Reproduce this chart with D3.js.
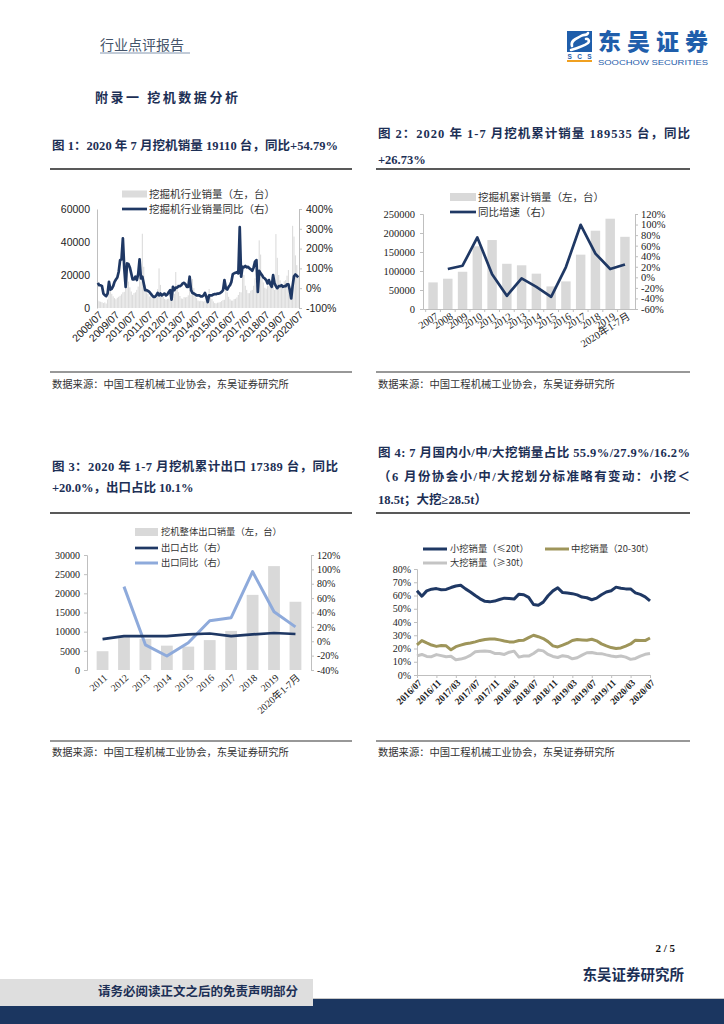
<!DOCTYPE html>
<html><head><meta charset="utf-8">
<script src="https://cdn.jsdelivr.net/npm/d3@7"></script>
<style>body{margin:0;background:#fff}svg{display:block}</style>
</head><body>
<svg id="page" width="724" height="1024"></svg>
<script>
// ---------------- DATA ----------------
// Chart 1: monthly excavator sales 2008/07 - 2020/07 and YoY %
const c1TickLabels = ["2008/07","2009/07","2010/07","2011/07","2012/07","2013/07","2014/07","2015/07","2016/07","2017/07","2018/07","2019/07","2020/07"];
const c1Sales = [
  4500,4000,3800,3500,3000,3400,
  2700,5200,11000,10500,8600,7100,6000,5300,6200,6800,7400,8300,
  9500,9800,24000,23000,16000,12500,10000,8000,9000,9500,11000,13000,
  22000,16000,45000,25000,14000,10500,8500,7000,7200,6500,6800,7000,
  6300,11500,24000,14000,9000,6800,5500,5000,5500,5700,6200,6500,
  7000,8500,21800,14300,9600,7300,5800,5600,6600,6400,6700,7700,
  10800,7900,17600,12000,8000,6000,4500,4100,4400,4200,3900,4300,
  5300,3500,11500,8200,5500,4000,3000,2800,3200,3300,3600,4200,
  4800,5000,15000,9500,6800,5300,4500,4500,5400,5600,6400,7900,
  9700,9500,26000,20000,13500,11000,9000,9000,10500,11000,13500,18000,
  14000,10000,41000,32400,19900,15500,12300,11700,13700,13400,16300,19000,
  19100,10900,44800,30400,20000,16800,13900,14200,16200,16900,19600,23000,
  8000,5500,49800,43300,31900,26000,19100
];
const c1Yoy = [
  27,15,15,10,-27,-35,
  -40,-27,32,-7,-3,10,32,44,54,83,142,146,
  252,100,7,125,122,105,75,44,44,58,41,71,
  146,49,58,24,-10,-10,-14,-19,-27,-36,-44,-44,
  -36,-24,-36,-27,-36,-31,-27,-36,-31,-19,-10,-58,
  7,-10,3,3,10,10,15,24,27,20,7,7,
  58,-10,-24,-27,-31,-36,-36,-36,-41,-41,-36,-24,
  -44,-70,-36,-36,-36,-32,-30,-30,-27,-27,-24,-19,
  -10,41,0,-7,7,15,32,71,75,78,81,75,
  308,58,108,105,112,105,108,100,95,88,105,134,
  142,-19,88,75,66,54,49,41,24,41,20,7,
  66,24,10,0,10,10,15,7,10,10,20,20,
  -10,-52,12,60,69,63,55
];
const c1LeftTicks = [0,20000,40000,60000];
const c1RightTicks = [-100,0,100,200,300,400];

// Chart 2: annual cumulative sales and YoY
const c2Years = ["2007","2008","2009","2010","2011","2012","2013","2014","2015","2016","2017","2018","2019","2020年1-7月"];
const c2Sales = [70000,79700,98000,165000,181500,119000,115000,93000,59500,72600,143000,206000,237600,190000];
const c2Yoy = [null,15.7,22,75.6,6,-35,-2,-18,-37,19.5,99.6,45,15.7,24.4];
const c2LeftTicks = [0,50000,100000,150000,200000,250000];
const c2RightTicks = [-60,-40,-20,0,20,40,60,80,100,120];

// Chart 3: exports
const c3Years = ["2011","2012","2013","2014","2015","2016","2017","2018","2019","2020年1-7月"];
const c3Exports = [4900,8600,8100,6350,6100,7800,10200,19600,27100,17800];
const c3Share = [3,7.2,7.2,7.2,9.6,10.8,7.2,9.5,11.5,10.1];
const c3Yoy = [null,76,-5,-20.5,-2,28.6,32.8,96.8,41,20];
const c3LeftTicks = [0,5000,10000,15000,20000,25000,30000];
const c3RightTicks = [-40,-20,0,20,40,60,80,100,120];

// Chart 4: share of small / medium / large excavators, 2016/07 - 2020/07 monthly
const c4TickLabels = ["2016/07","2016/11","2017/03","2017/07","2017/11","2018/03","2018/07","2018/11","2019/03","2019/07","2019/11","2020/03","2020/07"];
const c4Small = [63.6,59.5,63.5,64.8,65.2,64.4,64.6,66.0,67.2,67.7,65.0,62.7,60.0,57.5,55.6,55.2,55.8,57.0,58.0,57.8,57.3,61.0,60.6,58.6,53.2,52.6,55.0,59.8,63.5,65.8,62.2,61.8,61.4,60.5,58.8,58.3,56.8,58.0,60.6,62.6,63.6,66.3,65.5,65.0,65.0,62.0,60.8,59.0,55.9];
const c4Mid = [22.8,26.0,24.2,22.6,21.6,22.2,22.0,19.0,21.4,22.5,23.6,24.2,25.0,26.1,26.8,27.1,27.2,26.5,25.7,25.0,25.0,26.0,26.3,28.2,30.0,28.9,27.5,25.2,22.0,21.2,22.5,24.0,26.0,26.8,26.5,26.2,27.0,25.8,23.5,22.0,20.7,20.0,20.4,21.8,23.4,26.3,26.0,26.0,27.9];
const c4Large = [14.4,15.5,14.0,13.8,15.4,14.6,13.8,14.2,11.5,12.0,13.0,14.8,17.5,18.0,18.2,17.8,16.3,16.2,15.5,17.2,18.0,13.5,14.3,14.3,16.2,18.8,18.2,15.5,14.0,13.2,14.6,14.0,12.2,13.0,15.0,16.8,17.0,16.3,16.1,15.2,14.4,13.7,14.3,13.5,11.8,12.5,14.2,15.6,16.2];
const c4Ticks = [0,10,20,30,40,50,60,70,80];

// ---------------- STYLE ----------------
const NAVY = "#1c2f55";
const LNAVY = "#1f3864";
const BAR = "#d9d9d9";
const AX = "#bfbfbf";
const SERIF = "'Liberation Serif','Noto Sans CJK SC',serif";
const SANS = "'Liberation Sans','Noto Sans CJK SC',sans-serif";
const CJK = "'Noto Sans CJK SC',sans-serif";
const plain = d3.format("d");

const svg = d3.select("#page");

function text(x, y, s, o = {}) {
  const t = svg.append("text").attr("x", x).attr("y", y).attr("dy", "0.35em")
    .text(s)
    .attr("font-family", o.ff || CJK)
    .attr("font-size", o.fs || 11)
    .attr("font-weight", o.fw || 400)
    .attr("fill", o.fill || "#222")
    .attr("text-anchor", o.anchor || "start");
  if (o.len) t.attr("textLength", o.len).attr("lengthAdjust", "spacing");
  return t;
}
function hline(x1, x2, y, stroke, w) {
  svg.append("line").attr("x1", x1).attr("x2", x2).attr("y1", y).attr("y2", y)
    .attr("stroke", stroke).attr("stroke-width", w);
}
function styleAxis(g, fs, ff) {
  g.select(".domain").attr("stroke", AX);
  g.selectAll(".tick line").attr("stroke", AX);
  g.selectAll(".tick text").attr("font-size", fs).attr("font-family", ff).attr("fill", "#222");
}

// ---------------- PAGE HEADER ----------------
text(100, 45, "行业点评报告", {fs: 14, fill: "#44546a"});
hline(100, 190, 53, "#8497b0", 1);
// logo
svg.append("rect").attr("x", 567).attr("y", 31).attr("width", 25).attr("height", 21).attr("fill", "#1f5eab");
svg.append("path").attr("d", "M572,46 C570,40 578,38 581,36 C584,34 587,36 588,33 M571,50 C578,48 584,46 588,43 C590,41 588,38 586,39")
  .attr("fill", "none").attr("stroke", "#fff").attr("stroke-width", 2.6).attr("stroke-linecap", "round");
svg.append("text").attr("x", 579.5).attr("y", 59).attr("text-anchor", "middle").attr("font-family", SANS)
  .attr("font-size", 6.5).attr("font-weight", 700).attr("fill", "#1f5eab").attr("textLength", 24).text("SCS");
svg.append("rect").attr("x", 567).attr("y", 60).attr("width", 25).attr("height", 2).attr("fill", "#f0a020");
svg.append("text").attr("x", 598).attr("y", 50).attr("font-family", CJK).attr("font-size", 23).attr("font-weight", 900)
  .attr("fill", "#1f5eab").attr("textLength", 110).attr("lengthAdjust", "spacing").text("东吴证券");
svg.append("text").attr("x", 598).attr("y", 65).attr("font-family", SANS).attr("font-size", 8)
  .attr("fill", "#1f5eab").attr("textLength", 110).attr("lengthAdjust", "spacingAndGlyphs").text("SOOCHOW SECURITIES");

text(95, 97, "附录一 挖机数据分析", {fs: 13, fw: 700, fill: NAVY, len: 143});

// ---------------- TITLES ----------------
const TT = {ff: SERIF, fs: 12.5, fw: 700, fill: NAVY};
text(52, 146, "图 1：2020 年 7 月挖机销量 19110 台，同比+54.79%", {...TT, len: 286});
text(378, 134, "图 2：2020 年 1-7 月挖机累计销量 189535 台，同比", {...TT, len: 312});
text(378, 160, "+26.73%", TT);
hline(50, 352, 169, "#222", 1.5);
hline(376, 690, 169, "#222", 1.5);

text(52, 467, "图 3：2020 年 1-7 月挖机累计出口 17389 台，同比", {...TT, len: 286});
text(52, 488, "+20.0%，出口占比 10.1%", TT);
text(378, 453, "图 4: 7 月国内小/中/大挖销量占比 55.9%/27.9%/16.2%", {...TT, len: 312});
text(378, 477, "（6 月份协会小/中/大挖划分标准略有变动：小挖＜", {...TT, len: 312});
text(378, 500, "18.5t；大挖≥28.5t）", TT);
hline(50, 352, 513, "#222", 1.5);
hline(376, 690, 513, "#222", 1.5);

// sources
const SRC = "数据来源：中国工程机械工业协会，东吴证券研究所";
hline(50, 352, 372, "#333", 1.2);
hline(376, 690, 372, "#333", 1.2);
text(52, 384, SRC, {fs: 10.3, fill: "#333"});
text(378, 384, SRC, {fs: 10.3, fill: "#333"});
hline(50, 352, 741, "#333", 1.2);
hline(376, 690, 741, "#333", 1.2);
text(52, 752, SRC, {fs: 10.3, fill: "#333"});
text(378, 752, SRC, {fs: 10.3, fill: "#333"});

// ---------------- CHART 1 ----------------
(function () {
  const L = 97, R = 299, T = 209, B = 308;
  const x = d3.scaleBand().domain(d3.range(c1Sales.length)).range([L, R]).padding(0.2);
  const yL = d3.scaleLinear().domain([0, 60000]).range([B, T]);
  const yR = d3.scaleLinear().domain([-100, 400]).range([B, T]);
  svg.selectAll("rect.b").data(c1Sales).join("rect").attr("class", "b")
    .attr("x", (d, i) => x(i)).attr("width", x.bandwidth())
    .attr("y", d => yL(d)).attr("height", d => B - yL(d)).attr("fill", "#dcdcdc");
  const gl = svg.append("g").attr("transform", `translate(${L},0)`)
    .call(d3.axisLeft(yL).tickValues(c1LeftTicks).tickFormat(plain).tickSize(0).tickPadding(7));
  styleAxis(gl, 10.5, SANS);
  const gr = svg.append("g").attr("transform", `translate(${R},0)`)
    .call(d3.axisRight(yR).tickValues(c1RightTicks).tickFormat(d => d + "%").tickSize(3).tickPadding(4));
  styleAxis(gr, 10.5, SANS);
  const line = d3.line().x((d, i) => x(i) + x.bandwidth() / 2).y(d => yR(d)).curve(d3.curveLinear);
  svg.append("path").datum(c1Yoy).attr("d", line).attr("fill", "none")
    .attr("stroke", LNAVY).attr("stroke-width", 2.7).attr("stroke-linejoin", "round");
  c1TickLabels.forEach((s, k) => {
    const cx = x(k * 12) + x.bandwidth() / 2;
    svg.append("text").attr("transform", `translate(${cx + 3},${B + 5}) rotate(-45)`)
      .attr("text-anchor", "end").attr("dy", "0.35em").attr("font-family", SANS).attr("font-size", 10.5)
      .attr("fill", "#222").text(s);
  });
  // legend
  svg.append("rect").attr("x", 122).attr("y", 190.5).attr("width", 25).attr("height", 7).attr("fill", "#dcdcdc");
  text(149, 194, "挖掘机行业销量（左，台）", {fs: 10.5, fill: "#333"});
  hline(122, 147, 209, LNAVY, 2.7);
  text(149, 209, "挖掘机行业销量同比（右）", {fs: 10.5, fill: "#333"});
})();

// ---------------- CHART 2 ----------------
(function () {
  const L = 423, R = 635, T = 214, B = 309;
  const x = d3.scaleBand().domain(c2Years).range([L, R]).padding(0.36);
  const yL = d3.scaleLinear().domain([0, 250000]).range([B, T]);
  const yR = d3.scaleLinear().domain([-60, 120]).range([B, T]);
  svg.selectAll("rect.b2").data(c2Sales).join("rect").attr("class", "b2")
    .attr("x", (d, i) => x(c2Years[i])).attr("width", x.bandwidth())
    .attr("y", d => yL(d)).attr("height", d => B - yL(d)).attr("fill", BAR);
  const gl = svg.append("g").attr("transform", `translate(${L},0)`)
    .call(d3.axisLeft(yL).tickValues(c2LeftTicks).tickFormat(plain).tickSize(3).tickPadding(5));
  styleAxis(gl, 10.5, SERIF);
  const gr = svg.append("g").attr("transform", `translate(${R},0)`)
    .call(d3.axisRight(yR).tickValues(c2RightTicks).tickFormat(d => d + "%").tickSize(3).tickPadding(3));
  styleAxis(gr, 10.5, SERIF);
  const gb = svg.append("g").attr("transform", `translate(0,${B})`)
    .call(d3.axisBottom(x).tickSize(0).tickFormat(""));
  gb.select(".domain").attr("stroke", AX);
  const step = x.step();
  c2Years.forEach(s => {
    const bx = x(s) - (step - x.bandwidth()) / 2;
    svg.append("line").attr("x1", bx).attr("x2", bx).attr("y1", B).attr("y2", B + 3).attr("stroke", AX);
  });
  const line = d3.line().defined(d => d != null)
    .x((d, i) => x(c2Years[i]) + x.bandwidth() / 2).y(d => yR(d));
  svg.append("path").datum(c2Yoy).attr("d", line).attr("fill", "none")
    .attr("stroke", LNAVY).attr("stroke-width", 2.7).attr("stroke-linejoin", "round");
  c2Years.forEach(s => {
    const cx = x(s) + x.bandwidth() / 2;
    svg.append("text").attr("transform", `translate(${cx + 4},${B + 6}) rotate(-32)`)
      .attr("text-anchor", "end").attr("dy", "0.35em").attr("font-family", SERIF).attr("font-size", 10.5)
      .attr("fill", "#222").text(s);
  });
  svg.append("rect").attr("x", 450).attr("y", 193).attr("width", 26).attr("height", 8).attr("fill", BAR);
  text(478, 197, "挖掘机累计销量（左，台）", {fs: 10.5, fill: "#333"});
  hline(450, 476, 212, LNAVY, 2.7);
  text(478, 212, "同比增速（右）", {fs: 10.5, fill: "#333"});
})();

// ---------------- CHART 3 ----------------
(function () {
  const L = 87, R = 311, T = 555, B = 670;
  const x = d3.scaleBand().domain(c3Years).range([L, R]).padding(0.45);
  const yL = d3.scaleLinear().domain([0, 30000]).range([B, T]);
  const yR = d3.scaleLinear().domain([-40, 120]).range([B, T]);
  svg.selectAll("rect.b3").data(c3Exports).join("rect").attr("class", "b3")
    .attr("x", (d, i) => x(c3Years[i])).attr("width", x.bandwidth())
    .attr("y", d => yL(d)).attr("height", d => B - yL(d)).attr("fill", BAR);
  const gl = svg.append("g").attr("transform", `translate(${L},0)`)
    .call(d3.axisLeft(yL).tickValues(c3LeftTicks).tickFormat(plain).tickSize(3).tickPadding(4));
  styleAxis(gl, 10, SERIF);
  const gr = svg.append("g").attr("transform", `translate(${R},0)`)
    .call(d3.axisRight(yR).tickValues(c3RightTicks).tickFormat(d => d + "%").tickSize(3).tickPadding(3));
  styleAxis(gr, 10, SERIF);
  const cx = s => x(s) + x.bandwidth() / 2;
  const l1 = d3.line().defined(d => d != null).x((d, i) => cx(c3Years[i])).y(d => yR(d));
  svg.append("path").datum(c3Yoy).attr("d", l1).attr("fill", "none")
    .attr("stroke", "#8eaadb").attr("stroke-width", 3).attr("stroke-linejoin", "round");
  svg.append("path").datum(c3Share).attr("d", l1).attr("fill", "none")
    .attr("stroke", LNAVY).attr("stroke-width", 2.7).attr("stroke-linejoin", "round");
  c3Years.forEach(s => {
    svg.append("text").attr("transform", `translate(${cx(s) + 3},${B + 6}) rotate(-42)`)
      .attr("text-anchor", "end").attr("dy", "0.35em").attr("font-family", SERIF).attr("font-size", 10)
      .attr("fill", "#222").text(s);
  });
  svg.append("rect").attr("x", 135).attr("y", 528).attr("width", 23).attr("height", 8).attr("fill", BAR);
  text(161, 532, "挖机整体出口销量（左，台）", {fs: 9.3, fill: "#333"});
  hline(135, 158, 548, LNAVY, 2.7);
  text(161, 548, "出口占比（右）", {fs: 9.3, fill: "#333"});
  hline(135, 158, 563, "#8eaadb", 3);
  text(161, 563, "出口同比（右）", {fs: 9.3, fill: "#333"});
})();

// ---------------- CHART 4 ----------------
(function () {
  const L = 417, R = 650, T = 569, B = 675;
  const x = d3.scaleLinear().domain([0, c4Small.length - 1]).range([L, R]);
  const y = d3.scaleLinear().domain([0, 80]).range([B, T]);
  const gl = svg.append("g").attr("transform", `translate(${L},0)`)
    .call(d3.axisLeft(y).tickValues(c4Ticks).tickFormat(d => d + "%").tickSize(3).tickPadding(3));
  styleAxis(gl, 10, SERIF);
  const gb = svg.append("g").attr("transform", `translate(0,${B})`)
    .call(d3.axisBottom(x).tickValues(d3.range(0, 49, 4)).tickFormat("").tickSize(3));
  styleAxis(gb, 10, SERIF);
  const ln = d3.line().x((d, i) => x(i)).y(d => y(d)).curve(d3.curveLinear);
  svg.append("path").datum(c4Large).attr("d", ln).attr("fill", "none").attr("stroke", "#c4c4c4").attr("stroke-width", 3).attr("stroke-linejoin", "round");
  svg.append("path").datum(c4Mid).attr("d", ln).attr("fill", "none").attr("stroke", "#9e955a").attr("stroke-width", 3).attr("stroke-linejoin", "round");
  svg.append("path").datum(c4Small).attr("d", ln).attr("fill", "none").attr("stroke", LNAVY).attr("stroke-width", 3).attr("stroke-linejoin", "round");
  c4TickLabels.forEach((s, k) => {
    svg.append("text").attr("transform", `translate(${x(k * 4) + 3},${B + 6}) rotate(-45)`)
      .attr("text-anchor", "end").attr("dy", "0.35em").attr("font-family", SERIF).attr("font-size", 9.5)
      .attr("fill", "#222").attr("font-weight", 700).text(s);
  });
  hline(423, 447, 549, LNAVY, 3);
  text(450, 549, "小挖销量（≤20t）", {fs: 9.3, fill: "#333"});
  hline(545, 569, 549, "#9e955a", 3);
  text(571, 549, "中挖销量（20-30t）", {fs: 9.3, fill: "#333"});
  hline(423, 447, 563, "#c4c4c4", 3);
  text(450, 563, "大挖销量（≥30t）", {fs: 9.3, fill: "#333"});
})();

// ---------------- FOOTER ----------------
text(675, 948, "2 / 5", {ff: SERIF, fs: 11, fw: 700, fill: "#111", anchor: "end"});
text(684, 975, "东吴证券研究所", {fs: 14.5, fw: 700, fill: NAVY, anchor: "end"});
svg.append("rect").attr("x", 0).attr("y", 998).attr("width", 724).attr("height", 26).attr("fill", "#1b3660");
svg.append("line").attr("x1", 313).attr("x2", 724).attr("y1", 998.5).attr("y2", 998.5).attr("stroke", "#c8c8c8");
svg.append("rect").attr("x", 0).attr("y", 979).attr("width", 313).attr("height", 27).attr("fill", "#dedede");
text(298, 992, "请务必阅读正文之后的免责声明部分", {fs: 12.5, fw: 700, fill: NAVY, anchor: "end"});
</script>
</body></html>
